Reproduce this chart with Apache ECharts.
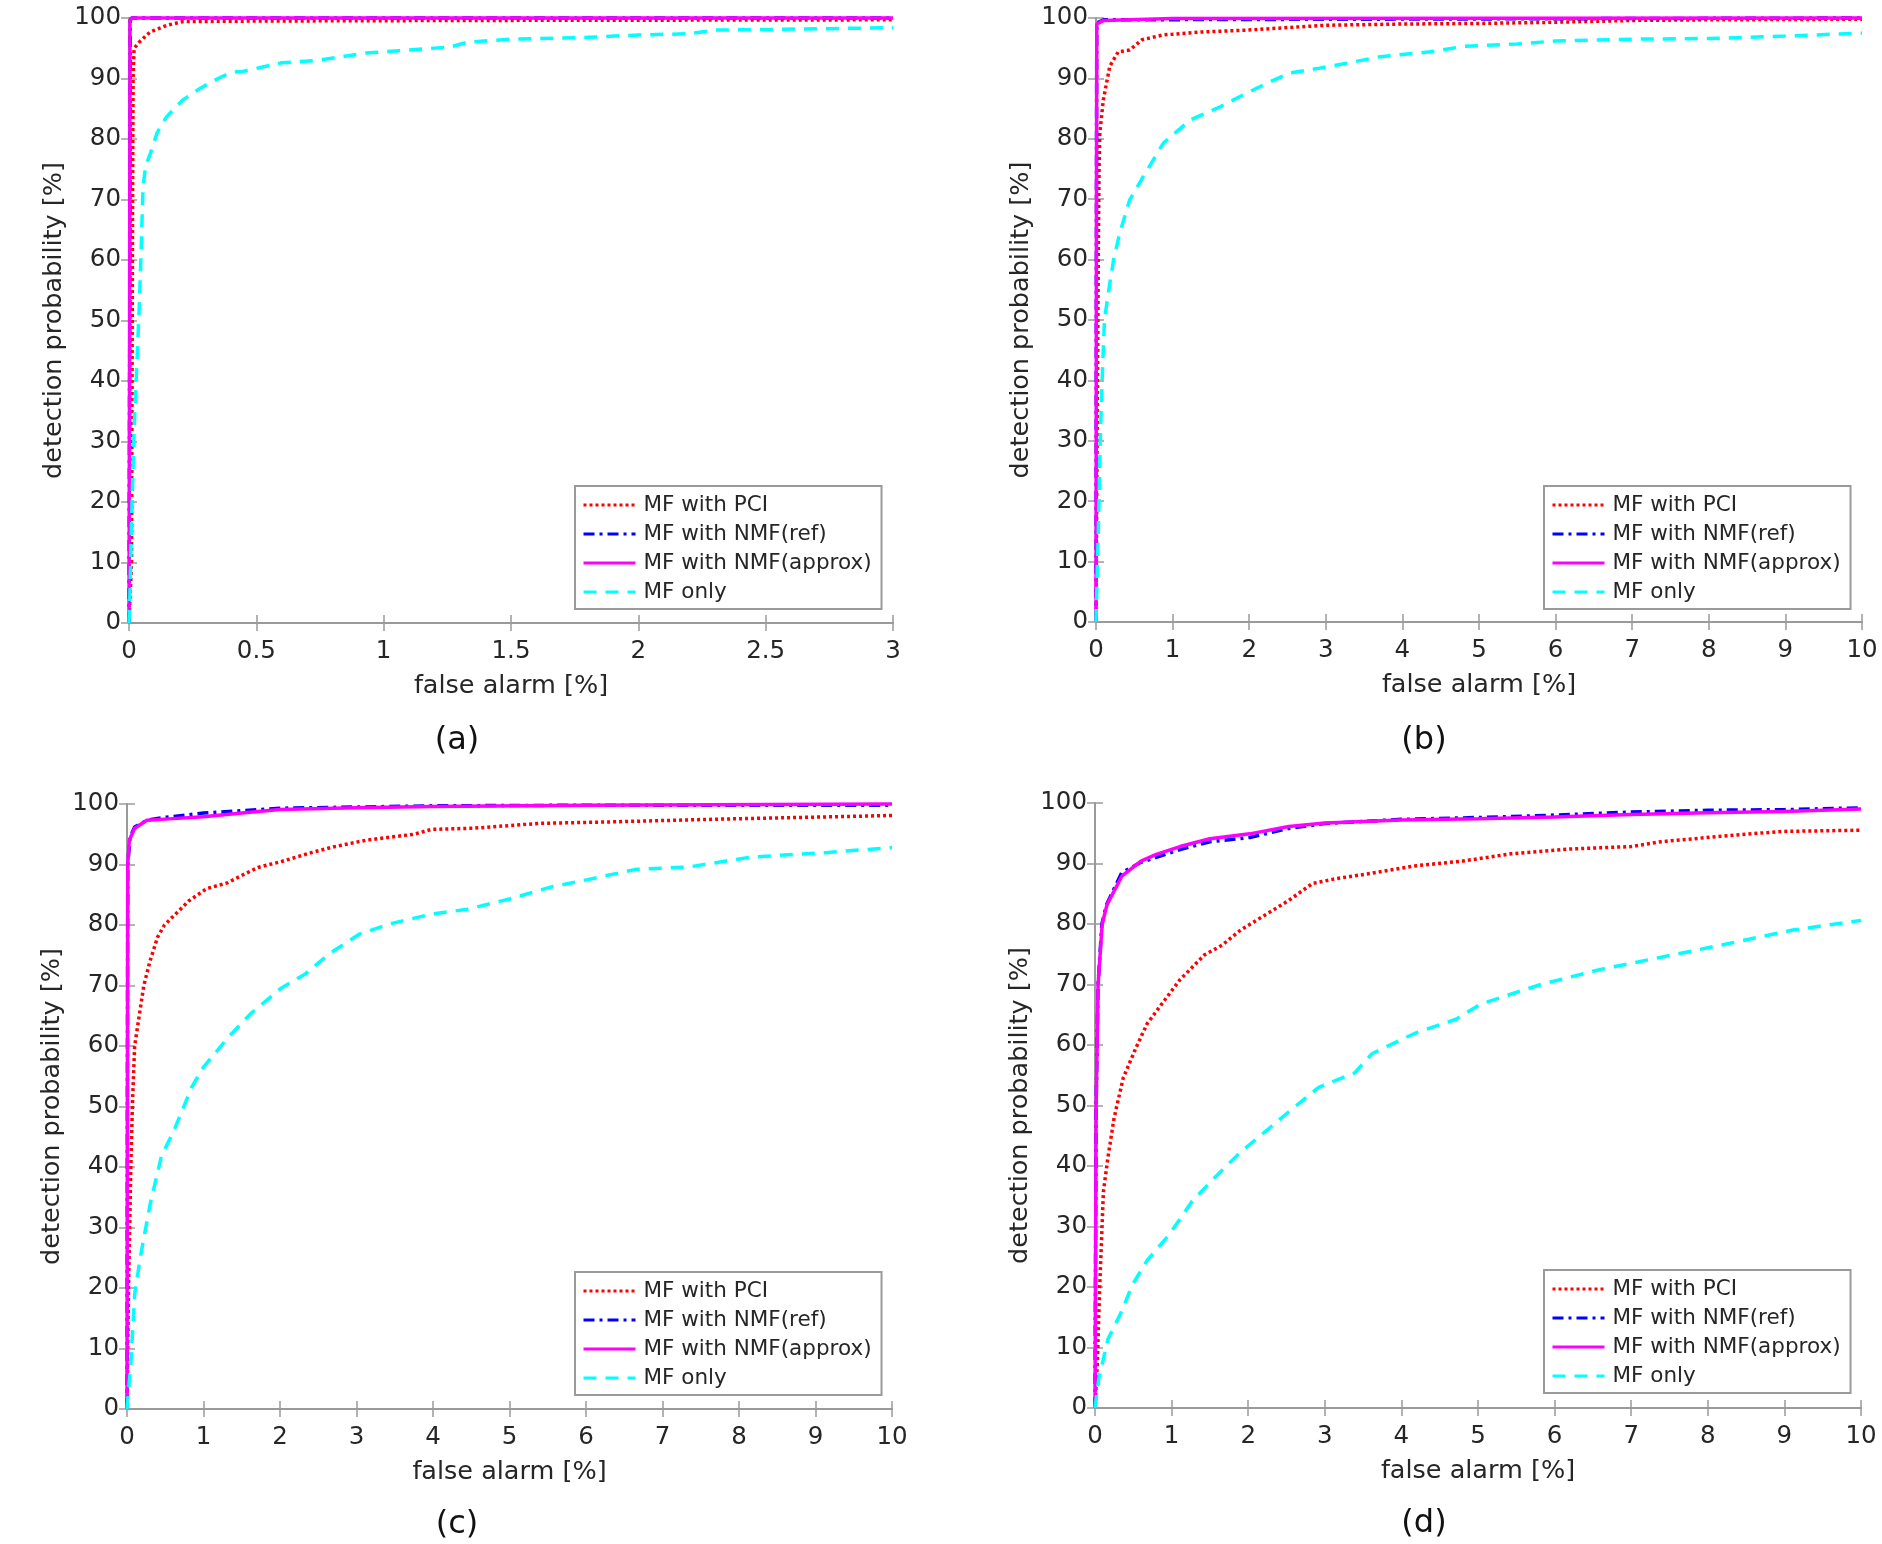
<!DOCTYPE html>
<html>
<head>
<meta charset="utf-8">
<title>ROC curves</title>
<script src="https://cdn.jsdelivr.net/npm/echarts@6/dist/echarts.min.js"></script>
<style>
  html, body { margin: 0; padding: 0; background: #fff; }
  #chart { width: 1882px; height: 1544px; }
</style>
</head>
<body>
<div id="chart"></div>
<script>
// series names (legend order)
const seriesNames = ['MF with PCI', 'MF with NMF(ref)', 'MF with NMF(approx)', 'MF only'];
const captions = ['(a)', '(b)', '(c)', '(d)'];
const yTicks = [0, 100, 10];

// panel (a): false alarm 0..3 %
const aPci = [[0,0],[0.01,10],[0.012,40],[0.014,70],[0.016,90],[0.02,95],[0.04,96],[0.083,97.7],[0.15,98.8],[0.21,99.4],[0.5,99.5],[1.4,99.6],[3,99.7]];
const aRef = [[0,0],[0.003,50],[0.005,99.6],[0.01,100],[3,100]];
const aApprox = [[0,0],[0.002,40],[0.004,99.5],[0.01,100],[3,100]];
const aMfOnly = [[0,0],[0.004,5],[0.012,20],[0.02,32],[0.03,42],[0.04,52],[0.048,62],[0.055,72],[0.065,75.5],[0.083,77.5],[0.11,81],[0.148,83.7],[0.21,86.4],[0.28,88.4],[0.35,90],[0.4,91],[0.45,91.2],[0.6,92.6],[0.74,93],[0.93,94.2],[1.06,94.6],[1.26,95.2],[1.33,96],[1.5,96.5],[1.8,96.8],[2.0,97.2],[2.2,97.4],[2.3,98],[2.5,98.1],[3,98.4]];

// panel (b)
const bPci = [[0,0],[0.01,20],[0.02,40],[0.03,60],[0.04,75],[0.05,81],[0.095,86.4],[0.18,92],[0.29,94.4],[0.44,94.7],[0.6,96.4],[0.88,97.2],[1.4,97.7],[1.97,98],[3,98.8],[4,99],[5,99.1],[6,99.3],[7,99.6],[8,99.7],[10,99.8]];
const bRef = [[0,0],[0.005,60],[0.01,99.2],[0.1,99.7],[10,100]];
const bApprox = [[0,0],[0.005,60],[0.01,99],[0.1,99.6],[1,99.9],[10,100]];
const bMfOnly = [[0,0],[0.02,10],[0.04,20],[0.055,30],[0.08,40],[0.11,50],[0.16,54.4],[0.23,60],[0.31,64.4],[0.44,69.9],[0.62,73.8],[0.88,79.3],[1.23,83.1],[1.62,85.3],[1.88,87],[2.23,89.2],[2.53,90.9],[2.92,91.7],[3.27,92.5],[3.71,93.6],[4.36,94.4],[4.8,95.3],[5.5,95.7],[6,96.2],[7,96.5],[8,96.6],[9,97],[10,97.5]];

// panel (c)
const cPci = [[0,0],[0.01,10],[0.02,20],[0.035,30],[0.05,40],[0.07,50],[0.1,60],[0.16,65],[0.22,70],[0.3,74],[0.4,78],[0.49,80],[0.65,82],[0.81,84],[1.04,86],[1.32,87],[1.47,88],[1.71,89.5],[2.02,90.5],[2.42,92],[2.73,93],[3.12,94],[3.75,95],[3.98,95.8],[4.53,96],[5.4,96.8],[6.18,97],[7.75,97.5],[10,98.1]];
const cRef = [[0,0],[0.005,50],[0.01,90],[0.04,94.5],[0.1,96.2],[0.26,97.3],[0.5,97.8],[1,98.5],[1.5,98.9],[2,99.3],[3,99.5],[4,99.7],[6,99.8],[10,99.8]];
const cApprox = [[0,0],[0.005,50],[0.01,90],[0.03,94],[0.1,96],[0.26,97.3],[0.5,97.5],[1,97.9],[1.5,98.5],[2,99.1],[3,99.4],[4,99.6],[6,99.8],[10,100]];
const cMfOnly = [[0,0],[0.05,7.4],[0.1,19],[0.18,25.5],[0.3,33.7],[0.45,41.8],[0.61,45.9],[0.85,53.3],[1,56.5],[1.32,61.4],[1.63,65.5],[2.02,69.6],[2.34,72],[2.65,75.3],[3.04,78.5],[3.44,80.2],[3.98,81.8],[4.45,82.6],[5,84.3],[5.55,86.3],[6.02,87.5],[6.65,89.2],[7.35,89.6],[8.14,91.2],[9.16,92],[10,92.8]];

// panel (d)
const dPci = [[0,0],[0.03,7.3],[0.06,19.5],[0.11,35.8],[0.17,41.5],[0.25,48],[0.37,54.6],[0.53,59.4],[0.68,63.5],[0.92,67.6],[1.11,70.8],[1.43,74.9],[1.66,76.5],[1.9,79],[2.21,81.4],[2.53,83.9],[2.84,86.7],[3.15,87.5],[3.62,88.4],[4.17,89.6],[4.8,90.4],[5.43,91.6],[6.21,92.4],[7,92.8],[7.39,93.6],[8.17,94.5],[8.96,95.3],[10,95.5]];
const dRef = [[0,0],[0.015,50],[0.04,70],[0.09,80],[0.15,83.2],[0.35,88.5],[0.6,90.2],[0.8,91],[1.11,92.3],[1.5,93.6],[2.02,94.3],[2.53,95.8],[3,96.6],[4,97.3],[5,97.6],[6,98],[7,98.5],[8,98.8],[9,98.9],[10,99.2]];
const dApprox = [[0,0],[0.015,50],[0.04,70],[0.094,80],[0.157,83.2],[0.35,87.9],[0.6,90.4],[0.8,91.5],[1.11,92.8],[1.5,94.1],[2.02,94.9],[2.53,96.1],[3,96.7],[4,97.2],[5,97.4],[6,97.7],[7,98.1],[8,98.4],[9,98.6],[10,99]];
const dMfOnly = [[0,0],[0.05,4.9],[0.17,11.4],[0.33,15.5],[0.49,20.4],[0.68,24.4],[0.96,28.5],[1.27,34.2],[1.58,38.3],[1.9,42.3],[2.29,46.4],[2.6,49.7],[2.92,53],[3.39,55.4],[3.62,58.6],[4.17,61.9],[4.72,64.3],[5.04,66.8],[5.82,70],[6.6,72.5],[7.39,74.5],[8.17,76.5],[9.11,79],[10,80.6]];

const panelData = [
  [aPci, aRef, aApprox, aMfOnly],
  [bPci, bRef, bApprox, bMfOnly],
  [cPci, cRef, cApprox, cMfOnly],
  [dPci, dRef, dApprox, dMfOnly]
];
const xRanges = [[0, 3, 0.5], [0, 10, 1], [0, 10, 1], [0, 10, 1]];

// layout
const grids = [
  { left: 129, top: 18, width: 764, height: 605 },
  { left: 1096, top: 18, width: 766, height: 604 },
  { left: 127, top: 804, width: 765, height: 605 },
  { left: 1095, top: 803, width: 766, height: 605 }
];
const legendBoxes = [
  { left: 575, top: 486 },
  { left: 1544, top: 486 },
  { left: 575, top: 1272 },
  { left: 1544, top: 1270 }
];
const captionPos = [[457, 741], [1424, 741], [457, 1525], [1424, 1524]];

const FONT = '"DejaVu Sans", "Liberation Sans", sans-serif';
const TEXT = '#262626';
const AXIS = '#9a9a9a';

const lineStyles = [
  { color: '#ff0000', width: 3.5, type: [3, 3] },
  { color: '#0000ff', width: 3.5, type: [11, 5, 3, 5] },
  { color: '#ff00ff', width: 3.5, type: 'solid' },
  { color: '#00ffff', width: 3.5, type: [13, 9] }
];

let xAxes = [], yAxes = [], series = [], legends = [], graphics = [];

grids.forEach((g, i) => {
  const xr = xRanges[i];
  const common = {
    gridIndex: i,
    axisLine: { show: true, lineStyle: { color: AXIS, width: 2 } },
    axisTick: { show: true, inside: true, length: 8, lineStyle: { color: AXIS, width: 1.5 } },
    splitLine: { show: false }
  };
  xAxes.push(Object.assign({}, common, {
    type: 'value', position: 'bottom', min: xr[0], max: xr[1], interval: xr[2],
    name: 'false alarm [%]', nameLocation: 'middle', nameGap: 50,
    nameTextStyle: { fontFamily: FONT, fontSize: 25.5, color: TEXT },
    axisLabel: { margin: 16, fontFamily: FONT, fontSize: 24.5, color: TEXT }
  }));
  xAxes.push(Object.assign({}, common, {
    type: 'value', position: 'top', min: xr[0], max: xr[1], interval: xr[2],
    axisLabel: { show: false }
  }));
  yAxes.push(Object.assign({}, common, {
    type: 'value', position: 'left', min: yTicks[0], max: yTicks[1], interval: yTicks[2],
    name: 'detection probability [%]', nameLocation: 'middle', nameGap: 62,
    nameTextStyle: { fontFamily: FONT, fontSize: 25.5, color: TEXT },
    axisLabel: { margin: 8, fontFamily: FONT, fontSize: 24.5, color: TEXT }
  }));
  yAxes.push(Object.assign({}, common, {
    type: 'value', position: 'right', min: yTicks[0], max: yTicks[1], interval: yTicks[2],
    axisLabel: { show: false }
  }));

  panelData[i].forEach((d, k) => {
    series.push({
      name: seriesNames[k],
      type: 'line',
      xAxisIndex: i * 2,
      yAxisIndex: i * 2,
      data: d,
      symbol: 'none',
      showSymbol: false,
      clip: false,
      itemStyle: { color: lineStyles[k].color },
      lineStyle: lineStyles[k],
      z: 3 + k
    });
  });

  legends.push({
    data: seriesNames,
    orient: 'vertical',
    left: legendBoxes[i].left,
    top: legendBoxes[i].top,
    itemWidth: 52,
    itemHeight: 14,
    itemGap: 7,
    padding: [8, 10, 6, 7],
    borderColor: AXIS,
    borderWidth: 2,
    backgroundColor: '#fff',
    selectedMode: false,
    itemStyle: { opacity: 0 },
    lineStyle: { width: 3 },
    textStyle: { fontFamily: FONT, fontSize: 21.5, color: TEXT, lineHeight: 20, padding: [0, 0, 0, 3] },
    z: 10
  });

  graphics.push({
    type: 'text',
    x: captionPos[i][0],
    y: captionPos[i][1],
    style: {
      text: captions[i],
      font: '32px ' + FONT,
      fill: '#111',
      align: 'center',
      verticalAlign: 'middle'
    }
  });
});

const chart = echarts.init(document.getElementById('chart'));
chart.setOption({
  animation: false,
  backgroundColor: '#fff',
  grid: grids.map(g => Object.assign({ containLabel: false }, g)),
  xAxis: xAxes,
  yAxis: yAxes,
  legend: legends,
  series: series,
  graphic: graphics
});
</script>
</body>
</html>
